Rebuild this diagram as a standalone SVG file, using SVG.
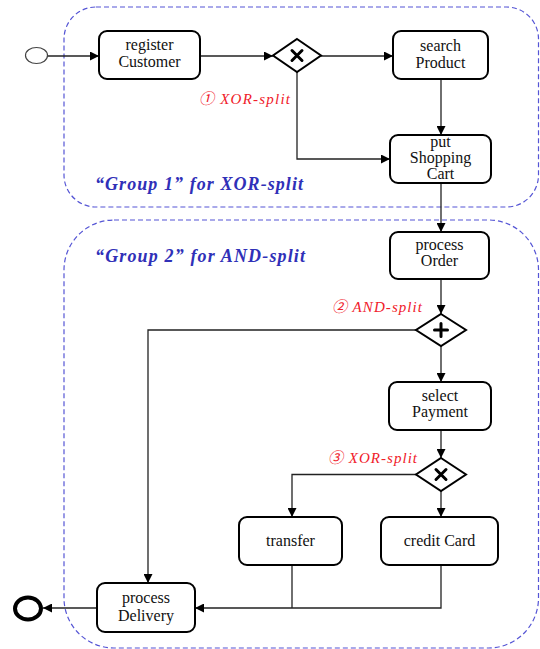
<svg xmlns="http://www.w3.org/2000/svg" width="540" height="649" viewBox="0 0 540 649">
<style>
.grp{fill:none;stroke:#5555d5;stroke-width:1.2;stroke-dasharray:5,3}
.task{fill:#fff;stroke:#000;stroke-width:2}
.gw{fill:#fff;stroke:#000;stroke-width:2}
.mk{stroke:#000;stroke-width:3;stroke-linecap:round;fill:none}
.t{font-family:'Liberation Serif','Times New Roman',serif;font-size:16px;fill:#111;text-anchor:middle}
.c{fill:none;stroke:#222;stroke-width:1.3}
.red{font-family:'Liberation Serif','Noto Sans CJK SC',serif;font-style:italic;font-size:15px;fill:#f0202a}
.blue{font-family:'Liberation Serif','Times New Roman',serif;font-style:italic;font-weight:bold;font-size:18px;fill:#3030b8}
</style>
<defs>
<marker id="arr" viewBox="0 0 10 10" refX="10" refY="5" markerWidth="9" markerHeight="9" markerUnits="userSpaceOnUse" orient="auto">
<path d="M0,0 L10,5 L0,10 z" fill="#000"/>
</marker>
</defs>
<g id="group1"><rect class="grp" x="64" y="7" width="474.5" height="200" rx="32"/>
<text class="blue" x="95" y="190" textLength="208" lengthAdjust="spacing">“Group 1” for XOR-split</text></g>
<g id="group2"><rect class="grp" x="64" y="220" width="474.5" height="428" rx="50"/>
<text class="blue" x="95" y="262" textLength="210" lengthAdjust="spacing">“Group 2” for AND-split</text></g>

<g id="connectors">
<path class="c" d="M47.5,56 H99" marker-end="url(#arr)"/>
<path class="c" d="M200,56 H273" marker-end="url(#arr)"/>
<path class="c" d="M321,56 H393" marker-end="url(#arr)"/>
<path class="c" d="M297,72 V159 H390" marker-end="url(#arr)"/>
<path class="c" d="M441,79 V135" marker-end="url(#arr)"/>
<path class="c" d="M441,183 V232" marker-end="url(#arr)"/>
<path class="c" d="M441,279 V314" marker-end="url(#arr)"/>
<path class="c" d="M441,346 V382" marker-end="url(#arr)"/>
<path class="c" d="M416,330 H148 V583" marker-end="url(#arr)"/>
<path class="c" d="M441,430 V458" marker-end="url(#arr)"/>
<path class="c" d="M416,474.5 H292 V517" marker-end="url(#arr)"/>
<path class="c" d="M441,491 V517" marker-end="url(#arr)"/>
<path class="c" d="M292,565 V608"/>
<path class="c" d="M441,565 V608 H195" marker-end="url(#arr)"/>
<path class="c" d="M97,608 H43" marker-end="url(#arr)"/>
</g>

<g id="start"><ellipse cx="36.5" cy="55.5" rx="11" ry="8" fill="#fff" stroke="#444" stroke-width="1.2"/></g>
<g id="end"><ellipse cx="28" cy="608.5" rx="13" ry="11" fill="#fff" stroke="#000" stroke-width="4"/></g>

<g id="registerCustomer"><rect class="task" x="99" y="31" width="101" height="48" rx="8"/>
<text class="t" x="149.5" y="50">register</text><text class="t" x="149.5" y="67">Customer</text></g>

<g id="xor1"><path class="gw" d="M297,39 L321,55.5 L297,72 L273,55.5 z"/>
<path class="mk" d="M292,50.5 L302,60.5 M302,50.5 L292,60.5"/></g>
<text class="red" x="199" y="104" textLength="91" lengthAdjust="spacing">① XOR-split</text>

<g id="searchProduct"><rect class="task" x="393" y="31" width="95" height="48" rx="8"/>
<text class="t" x="440.5" y="51">search</text><text class="t" x="440.5" y="68">Product</text></g>

<g id="putShoppingCart"><rect class="task" x="390" y="135" width="101" height="48" rx="8"/>
<text class="t" x="440.5" y="147">put</text><text class="t" x="440.5" y="163">Shopping</text><text class="t" x="440.5" y="179">Cart</text></g>

<g id="processOrder"><rect class="task" x="390" y="232" width="99" height="47" rx="8"/>
<text class="t" x="439.5" y="250">process</text><text class="t" x="439.5" y="266">Order</text></g>

<g id="and1"><path class="gw" d="M441,314 L466,330 L441,346 L416,330 z"/>
<path class="mk" d="M441,323.5 V336.5 M434.5,330 H447.5"/></g>
<text class="red" x="332" y="312" textLength="90" lengthAdjust="spacing">② AND-split</text>

<g id="selectPayment"><rect class="task" x="389" y="382" width="102" height="48" rx="8"/>
<text class="t" x="440" y="401">select</text><text class="t" x="440" y="417">Payment</text></g>

<g id="xor2"><path class="gw" d="M441,458 L466,474.5 L441,491 L416,474.5 z"/>
<path class="mk" d="M436,469.5 L446,479.5 M446,469.5 L436,479.5"/></g>
<text class="red" x="328" y="463" textLength="89" lengthAdjust="spacing">③ XOR-split</text>

<g id="transfer"><rect class="task" x="239" y="517" width="103" height="48" rx="8"/>
<text class="t" x="290.5" y="546">transfer</text></g>

<g id="creditCard"><rect class="task" x="381" y="517" width="117" height="48" rx="8"/>
<text class="t" x="439.5" y="546">credit Card</text></g>

<g id="processDelivery"><rect class="task" x="97" y="583" width="98" height="49" rx="8"/>
<text class="t" x="146" y="603">process</text><text class="t" x="146" y="621">Delivery</text></g>
</svg>
